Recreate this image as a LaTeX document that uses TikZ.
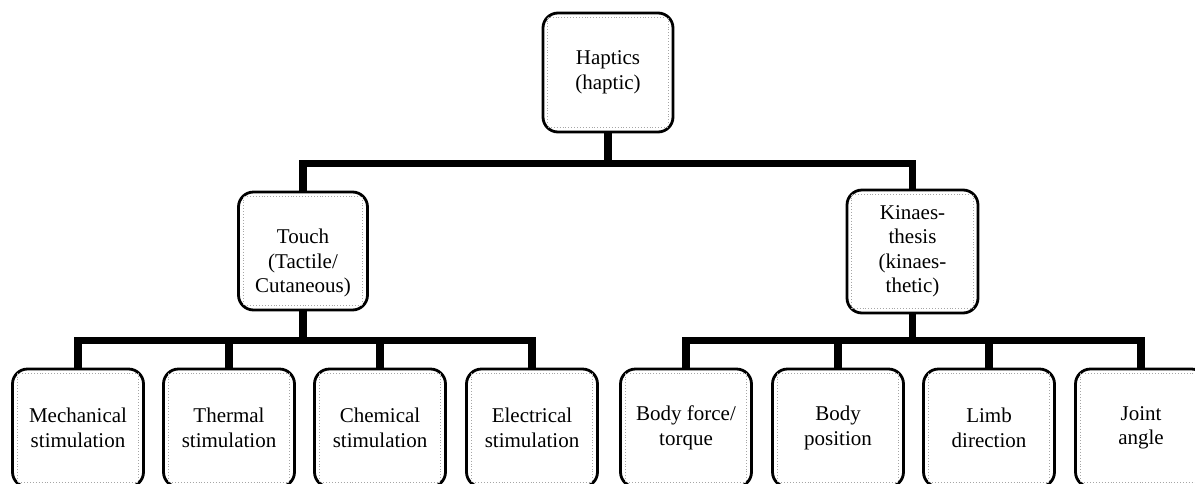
\documentclass[tikz,border=0pt]{standalone}
\usepackage{fontspec}
\setmainfont{Liberation Serif}
\begin{document}
\begin{tikzpicture}[x=1pt,y=-1pt,
  box/.style={draw=black, line width=2.8pt, rounded corners=15pt, minimum width=131pt, minimum height=#1, inner sep=0pt, fill=white},
  box/.default=118pt,
  inner/.style={draw=gray!70, line width=0.9pt, dotted},
  txt/.style={align=center, font=\fontsize{21}{24.5}\selectfont, inner sep=0pt},
  conn/.style={draw=black, line width=7.5pt}
]
\useasboundingbox (0,0) rectangle (1195,483);
\clip (0,0) rectangle (1195,483);
\fill[white] (0,0) rectangle (1195,483);

% top
\node[box=119pt, minimum width=130pt] (hap) at (608,72.5) {};
\node[box=118pt, minimum width=129pt] (touch) at (303,251) {};
\node[box=123pt, minimum width=131pt] (kin) at (912.5,251.5) {};

\foreach \n/\x in {b1/78,b2/229,b3/380,b4/532,b5/686,b6/838,b7/989,b8/1141}{
  \node[box] (\n) at (\x,428) {};
}

% connectors
\draw[conn] (hap.south) -- ++(0,30) -| (touch.north);
\draw[conn] (hap.south) -- ++(0,30) -| (kin.north);
\foreach \n in {b1,b2,b3,b4}{
  \draw[conn] (touch.south) -- ++(0,29) -| (\n.north);
}
\foreach \n in {b5,b6,b7,b8}{
  \draw[conn] (kin.south) -- ++(0,26) -| (\n.north);
}

% inner dotted frames
\foreach \n in {hap,touch,kin,b1,b2,b3,b4,b5,b6,b7,b8}{
  \draw[inner] ([xshift=6pt,yshift=-6pt]\n.north west) rectangle ([xshift=-6pt,yshift=6pt]\n.south east);
}

% texts
\node[txt] (hapt) at (hap.center) {Haptics\\(haptic)};
\node[txt] (toucht) at ([yshift=-12pt]touch.center) {Touch\\(Tactile/\\Cutaneous)};
\node[txt] (kint) at (kin.center) {Kinaes-\\thesis\\(kinaes-\\thetic)};
\node[txt] (b1t) at (b1.center) {Mechanical\\stimulation};
\node[txt] (b2t) at (b2.center) {Thermal\\stimulation};
\node[txt] (b3t) at (b3.center) {Chemical\\stimulation};
\node[txt] (b4t) at (b4.center) {Electrical\\stimulation};
\node[txt] (b5t) at (b5.center) {Body force/\\torque};
\node[txt] (b6t) at (b6.center) {Body\\position};
\node[txt] (b7t) at (b7.center) {Limb\\direction};
\node[txt] (b8t) at (b8.center) {Joint\\angle};
\end{tikzpicture}
\end{document}
